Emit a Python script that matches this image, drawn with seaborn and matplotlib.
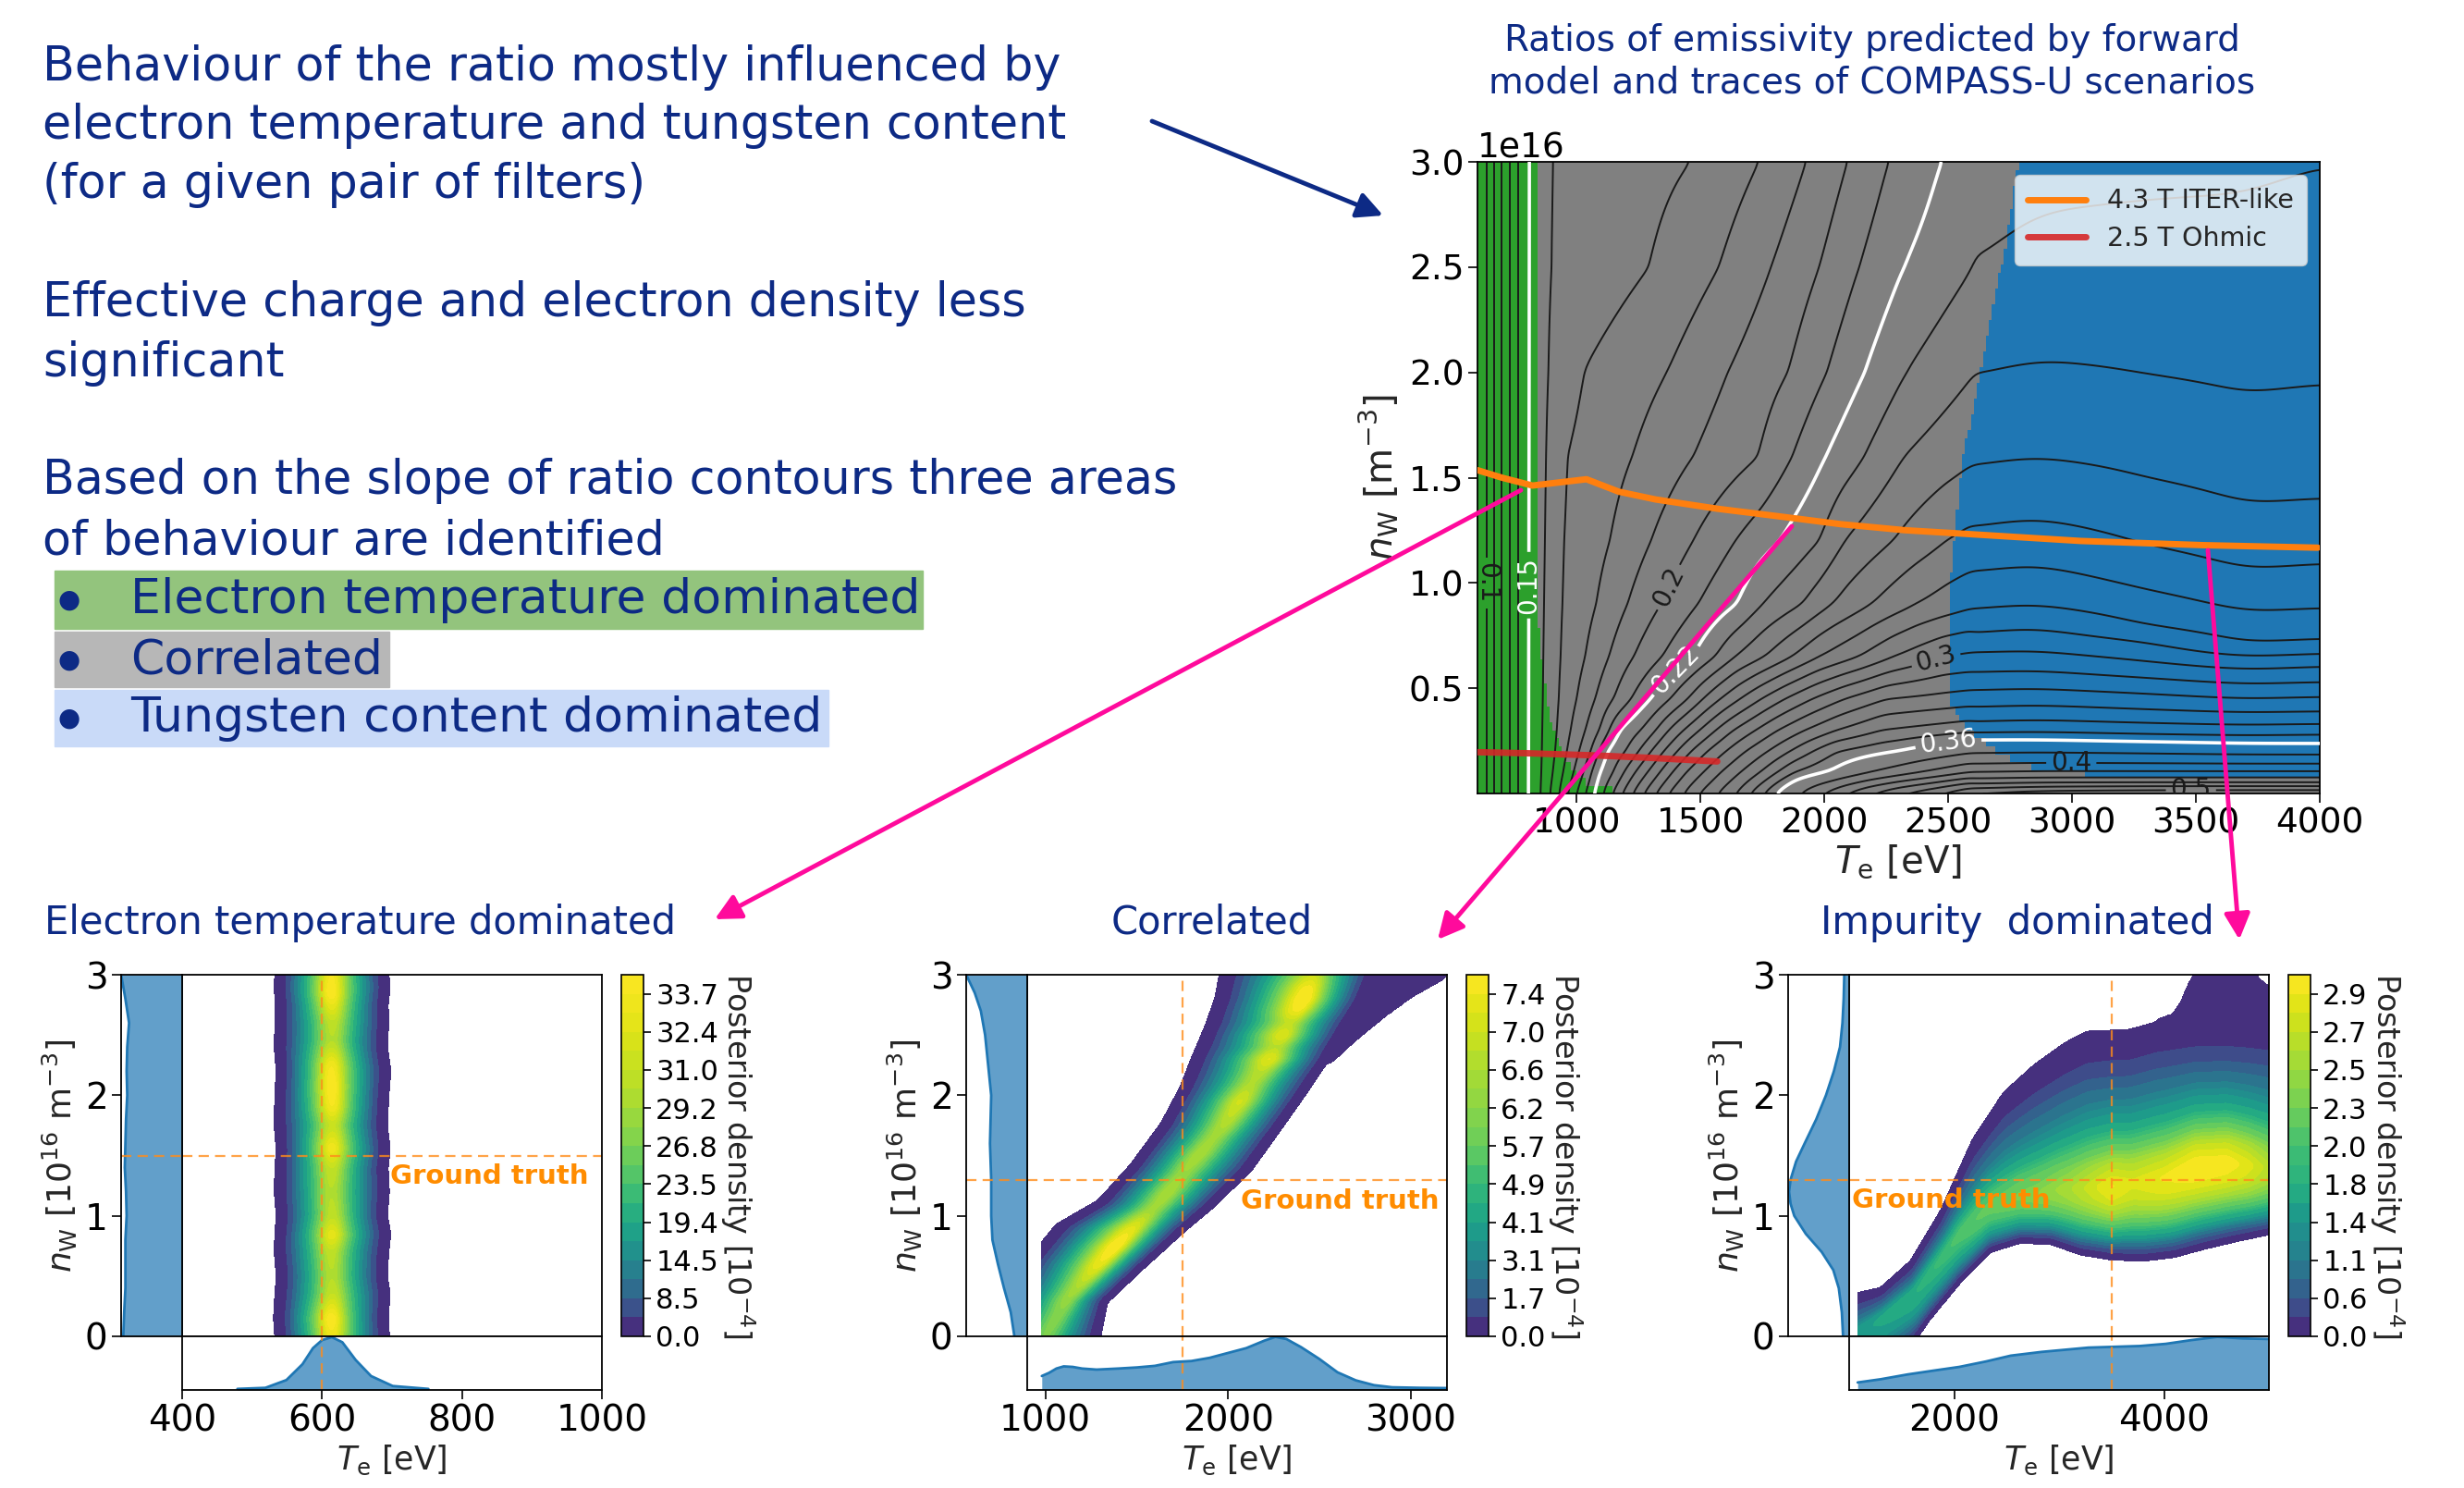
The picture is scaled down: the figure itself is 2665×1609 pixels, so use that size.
import numpy as np
import matplotlib
matplotlib.use("Agg")
import matplotlib.pyplot as plt
import seaborn as sns
from matplotlib.colors import ListedColormap, Normalize
from matplotlib.patches import Rectangle, FancyArrowPatch

N = np.nan

# ---------------------------------------------------------------- main map data
# ratio-contour crossings (Te, eV) read along rows of constant n_W (1e16 m^-3)
ROWS_NW = [0.0, 0.1, 0.2, 0.3, 0.45, 0.65, 0.9, 1.2, 1.6, 2.0, 2.5, 3.0]
GREEN_TE = [600, 636, 667, 698, 729, 760, 804]
GREEN_R = [0.088, 0.10, 0.11, 0.12, 0.13, 0.14, 0.15]
CROSS_LEVELS = [0.16, 0.17, 0.18, 0.19, 0.20, 0.21, 0.22, 0.23, 0.24, 0.25, 0.26, 0.27,
                0.28, 0.29, 0.30, 0.31, 0.32, 0.33, 0.34, 0.35, 0.36, 0.38, 0.40, 0.42,
                0.44, 0.46, 0.48]
CROSS_TE = [
    [858, 859, 860, 861, 863, 865, 868, 872, 876, 881, 886, 890],
    [893, 905, 915, 921, 927, 932, 937, 942, 955, 1025, 1293, 1461],
    [930, 945, 960, 975, 1000, 1035, 1080, 1135, 1225, 1365, 1575, 1737],
    [965, 988, 1010, 1035, 1075, 1130, 1205, 1300, 1470, 1610, 1785, 1927],
    [1000, 1030, 1060, 1095, 1150, 1230, 1340, 1470, 1735, 1855, 1980, 2093],
    [1036, 1060, 1090, 1130, 1220, 1345, 1490, 1640, 1870, 2010, 2140, 2258],
    [1071, 1090, 1118, 1170, 1300, 1470, 1648, 1818, 2005, 2162, 2320, 2470],
    [1108, 1150, 1200, 1260, 1380, 1560, 1750, 1980, 2160, 2330, N, N],
    [1145, 1190, 1250, 1320, 1450, 1640, 1910, 2080, 2320, N, N, N],
    [1183, 1235, 1300, 1370, 1510, 1760, 2030, 2275, N, N, N, N],
    [1226, 1285, 1350, 1430, 1580, 1870, 2190, 2490, N, N, N, N],
    [1270, 1335, 1405, 1495, 1660, 1980, 2370, N, N, N, N, N],
    [1319, 1385, 1460, 1560, 1745, 2140, N, N, N, N, N, N],
    [1369, 1440, 1525, 1630, 1840, 2280, N, N, N, N, N, N],
    [1431, 1510, 1600, 1720, 1950, 2480, N, N, N, N, N, N],
    [1493, 1580, 1680, 1810, 2080, N, N, N, N, N, N, N],
    [1568, 1660, 1770, 1920, 2250, N, N, N, N, N, N, N],
    [1642, 1740, 1860, 2050, N, N, N, N, N, N, N, N],
    [1700, 1810, 1950, 2230, N, N, N, N, N, N, N, N],
    [1755, 1880, 2050, N, N, N, N, N, N, N, N, N],
    [1804, 2020, 2300, N, N, N, N, N, N, N, N, N],
    [1900, 2200, N, N, N, N, N, N, N, N, N, N],
    [1990, 2400, N, N, N, N, N, N, N, N, N, N],
    [2080, N, N, N, N, N, N, N, N, N, N, N],
    [2180, N, N, N, N, N, N, N, N, N, N, N],
    [2300, N, N, N, N, N, N, N, N, N, N, N],
    [2450, N, N, N, N, N, N, N, N, N, N, N],
]
# heights (n_W) of the nearly horizontal contours in the hot region, per column
BLUE_TE = [2600, 2850, 3300, 3700, 4000]
BLUE_LEVELS = [0.22, 0.23, 0.24, 0.25, 0.26, 0.27, 0.28, 0.29, 0.30, 0.31, 0.32, 0.33,
               0.34, 0.35, 0.36, 0.38, 0.40, 0.42, 0.44, 0.46, 0.48, 0.50, 0.52]
BLUE_NW = [
    [3.30, 3.60, 3.80, 3.90, 4.00],
    [2.50, 2.76, 2.82, 2.85, 2.98],
    [1.98, 2.06, 1.99, 1.89, 1.94],
    [1.55, 1.60, 1.50, 1.37, 1.40],
    [1.26, 1.31, 1.18, 1.06, 1.09],
    [1.05, 1.09, 0.97, 0.86, 0.88],
    [0.87, 0.90, 0.80, 0.71, 0.73],
    [0.76, 0.79, 0.72, 0.65, 0.665],
    [0.67, 0.68, 0.63, 0.59, 0.606],
    [0.575, 0.585, 0.55, 0.52, 0.53],
    [0.49, 0.50, 0.475, 0.45, 0.46],
    [0.41, 0.42, 0.40, 0.385, 0.39],
    [0.34, 0.35, 0.335, 0.325, 0.33],
    [0.285, 0.29, 0.28, 0.275, 0.28],
    [0.255, 0.255, 0.245, 0.235, 0.233],
    [0.19, 0.195, 0.19, 0.185, 0.185],
    [0.14, 0.145, 0.143, 0.141, 0.141],
    [0.10, 0.105, 0.105, 0.105, 0.105],
    [0.07, 0.075, 0.075, 0.075, 0.075],
    [0.045, 0.05, 0.05, 0.05, 0.05],
    [0.025, 0.033, 0.035, 0.035, 0.035],
    [0.005, 0.015, 0.02, 0.02, 0.02],
    [-0.02, 0.0, 0.005, 0.008, 0.008],
]
BLACK_LEVELS = [0.11, 0.12, 0.13, 0.14, 0.16, 0.17, 0.18, 0.19, 0.21, 0.23, 0.24, 0.25,
                0.26, 0.27, 0.28, 0.29, 0.31, 0.32, 0.33, 0.34, 0.35, 0.38, 0.42, 0.44,
                0.46, 0.48, 0.52]
BLACK_LABELED = [0.10, 0.20, 0.30, 0.40, 0.50]
BLACK_LABEL_POS = [(630, 1.00), (1390, 0.97), (2450, 0.64), (2997, 0.145), (3480, 0.02)]
WHITE_LEVELS = [0.15, 0.22, 0.36]
WHITE_LABEL_POS = [(804, 0.99), (1419, 0.563), (2500, 0.25)]

# behaviour regions (boundaries)
GREEN_B_NW = [0.0, 0.015, 0.05, 0.11, 0.25, 0.40, 0.90, 3.0]
GREEN_B_TE = [1800, 1158, 1046, 984, 922, 884, 838, 838]
BLUE_L_NW = [0.0, 0.45, 0.69, 1.06, 1.35, 1.573, 1.75, 1.97, 2.19, 2.41, 2.63, 3.0]
BLUE_L_TE = [2500, 2500, 2505, 2512, 2537, 2556, 2587, 2624, 2661, 2698, 2736, 2784]
BLUE_B_TE = [2400, 2500, 2537, 2575, 2635, 2698, 2784, 2911, 3097, 3406, 3656, 3902, 4000]
BLUE_B_NW = [0.60, 0.45, 0.374, 0.30, 0.255, 0.20, 0.145, 0.11, 0.088, 0.07, 0.07, 0.079, 0.093]

# scenario traces
ITER_TE = [600, 700, 822, 1040, 1170, 1319, 1568, 1816, 2064, 2325, 2537, 3034, 3530, 3992]
ITER_NW = [1.536, 1.50, 1.463, 1.493, 1.434, 1.397, 1.353, 1.317, 1.28, 1.251, 1.236, 1.20, 1.18, 1.168]
OHM_TE = [600, 800, 1071, 1300, 1568]
OHM_NW = [0.197, 0.192, 0.182, 0.170, 0.153]

# ---------------------------------------------------------------- posterior panels
# ridge description: outer edges, crest and crest amplitude along the ridge
P1_S = [0, 0.15, 0.35, 0.5, 0.7, 0.85, 1.0, 1.2, 1.4, 1.55, 1.75, 2.0, 2.2, 2.4, 2.6, 2.75, 2.9, 3.0]
P1_LO = [536, 534, 536, 538, 535, 536, 538, 535, 536, 538, 535, 536, 538, 535, 536, 537, 535, 536]
P1_PK = [614, 613, 615, 614, 613, 614, 615, 613, 614, 614, 615, 614, 613, 614, 615, 614, 613, 614]
P1_HI = [693, 691, 694, 690, 692, 695, 690, 693, 691, 694, 690, 692, 695, 690, 692, 691, 694, 692]
P1_AMP_S = [0, 0.15, 0.35, 0.5, 0.7, 0.84, 1.0, 1.2, 1.4, 1.56, 1.75, 1.9, 2.07, 2.25, 2.45,
            2.6, 2.75, 2.85, 3.0]
P1_AMP = [0.97, 1.0, 0.9, 0.87, 0.89, 0.96, 0.89, 0.87, 0.9, 0.98, 0.9, 0.98, 1.0, 0.98,
          0.87, 0.89, 0.96, 1.0, 0.98]
P1_LEVELS = [0.04, 4.4, 8.5, 11.6, 14.5, 17.0, 19.4, 21.5, 23.5, 25.2, 26.8, 28.0, 29.2,
             30.1, 31.0, 31.7, 32.4, 33.05, 33.7, 34.3]

P2_S = [0, 0.3, 0.6, 0.9, 1.1, 1.4, 1.75, 2.05, 2.3, 2.55, 2.8, 3.0]
P2_LO = [700, 800, 900, 1060, 1290, 1470, 1640, 1745, 1810, 1880, 1940, 1963]
P2_PK = [1000, 1120, 1300, 1480, 1620, 1780, 1980, 2110, 2230, 2320, 2420, 2470]
P2_HI = [1292, 1330, 1540, 1760, 1920, 2125, 2290, 2430, 2540, 2640, 2740, 2800]
P2_AMP_S = [0, 0.2, 0.4, 0.6, 0.75, 0.9, 1.05, 1.2, 1.35, 1.5, 1.65, 1.8, 1.95, 2.1, 2.2,
            2.3, 2.4, 2.5, 2.6, 2.7, 2.8, 2.9, 3.0]
P2_AMP = [0.78, 0.8, 0.86, 0.96, 1.0, 0.95, 0.84, 0.86, 0.83, 0.86, 0.84, 0.88, 0.92, 0.86,
          0.88, 0.95, 0.87, 0.94, 0.88, 0.97, 1.0, 0.97, 0.9]
P2_HALO_S = [0, 2.2, 2.31, 2.5, 2.69, 2.85, 3.0]
P2_HALO = [0, 0, 2562, 2700, 2854, 3000, 3175]
P2_LEVELS = [0.01, 0.9, 1.7, 2.45, 3.1, 3.6, 4.1, 4.5, 4.9, 5.3, 5.7, 5.95, 6.2, 6.4,
             6.6, 6.8, 7.0, 7.2, 7.4, 7.65]

P3_LO_S = [1000, 1081, 1300, 1630, 1748, 2041, 2334, 2627, 2920, 3214, 3507, 3800, 4094,
           4387, 4680, 5000]
P3_LO = [-0.4, -0.35, -0.25, 0.0, 0.15, 0.46, 0.72, 0.8, 0.79, 0.7, 0.66, 0.65, 0.68,
         0.75, 0.81, 0.87]
P3_PK_S = [1000, 1200, 1600, 2041, 2334, 2627, 3000, 3500, 4000, 4300, 4600, 5000]
P3_PK = [0.0, 0.1, 0.35, 0.85, 1.08, 1.17, 1.22, 1.25, 1.32, 1.42, 1.45, 1.40]
P3_HI_S = [1000, 1088, 1308, 1601, 1894, 2188, 2481, 2774, 3067, 3273, 3654, 3947, 4300, 5000]
P3_HI = [0.33, 0.35, 0.39, 0.62, 1.05, 1.63, 2.02, 2.25, 2.43, 2.52, 2.53, 2.6, 2.62, 2.62]
P3_AMP_S = [1000, 1300, 1600, 1900, 2200, 2500, 2800, 3100, 3350, 3500, 3700, 4000, 4300,
            4600, 4800, 5000]
P3_AMP = [0.5, 0.55, 0.6, 0.66, 0.72, 0.76, 0.8, 0.86, 0.93, 0.97, 0.94, 0.97, 1.0, 0.99,
          0.95, 0.88]
P3_HALO_S = [1000, 3900, 3950, 4100, 4182, 4250, 4314, 4400, 4800, 4880, 5000]
P3_HALO = [0, 0, 2.6, 2.65, 2.76, 2.9, 3.0, 3.3, 3.3, 2.95, 2.87]
P3_LEVELS = [0.01, 0.3, 0.6, 0.85, 1.1, 1.25, 1.4, 1.6, 1.8, 1.9, 2.0, 2.15, 2.3, 2.4,
             2.5, 2.6, 2.7, 2.8, 2.9, 3.0]

# cross-section shapes (relative density vs. normalised distance from crest)
SHAPE_D = [0, 0.08, 0.19, 0.36, 0.5, 0.63, 0.75, 0.83, 0.92, 1.0, 1.05]
SHAPE_F = [1.0, 0.985, 0.9, 0.72, 0.56, 0.4, 0.23, 0.125, 0.05, 0.001, 0.0]
SHAPE3_LO_D = [0, 0.21, 0.41, 0.57, 0.75, 0.89, 1.0, 1.05]
SHAPE3_LO_F = [1.0, 0.96, 0.86, 0.72, 0.5, 0.2, 0.003, 0.0]
SHAPE3_HI_D = [0, 0.14, 0.24, 0.4, 0.6, 0.78, 1.0, 1.05]
SHAPE3_HI_F = [1.0, 0.9, 0.77, 0.55, 0.33, 0.12, 0.003, 0.0]

# marginal densities (relative)
P1_MX_TE = [479, 519, 549, 572, 587, 600, 614, 629, 648, 670, 701, 752]
P1_MX_D = [0.02, 0.04, 0.185, 0.48, 0.78, 0.93, 0.985, 0.89, 0.56, 0.26, 0.074, 0.02]
P1_MY_NW = [0.0, 0.2, 0.4, 0.6, 0.8, 1.0, 1.2, 1.4, 1.6, 1.8, 2.0, 2.2, 2.4, 2.6, 2.8, 3.0]
P1_MY_D = [0.965, 0.95, 0.93, 0.93, 0.93, 0.91, 0.92, 0.94, 0.93, 0.92, 0.90, 0.91, 0.90, 0.87, 0.93, 1.0]
P2_MX_TE = [980, 1020, 1060, 1100, 1150, 1200, 1280, 1400, 1500, 1600, 1700, 1800, 1900,
            2000, 2100, 2200, 2260, 2320, 2400, 2500, 2600, 2700, 2800, 2900, 3050, 3200]
P2_MX_D = [0.26, 0.32, 0.40, 0.44, 0.43, 0.40, 0.38, 0.40, 0.42, 0.45, 0.52, 0.54, 0.60,
           0.69, 0.78, 0.92, 0.99, 0.95, 0.80, 0.58, 0.33, 0.18, 0.09, 0.05, 0.04, 0.035]
P2_MY_NW = [0.0, 0.2, 0.4, 0.6, 0.8, 1.0, 1.3, 1.6, 2.0, 2.3, 2.5, 2.7, 2.85, 3.0]
P2_MY_D = [0.21, 0.27, 0.38, 0.48, 0.57, 0.59, 0.59, 0.61, 0.59, 0.65, 0.69, 0.76, 0.86, 1.0]
P3_MX_TE = [1081, 1300, 1558, 1800, 2049, 2300, 2540, 2835, 3280, 3771, 4017, 4263, 4509, 4754, 5000]
P3_MX_D = [0.14, 0.20, 0.29, 0.36, 0.43, 0.53, 0.64, 0.71, 0.79, 0.82, 0.86, 0.93, 0.99, 0.96, 0.95]
P3_MY_NW = [0.0, 0.2, 0.4, 0.55, 0.7, 0.85, 1.0, 1.1, 1.2, 1.3, 1.45, 1.6, 1.8, 2.0, 2.2,
            2.4, 2.6, 2.8, 3.0]
P3_MY_D = [0.10, 0.12, 0.17, 0.26, 0.45, 0.71, 0.90, 0.96, 0.985, 0.96, 0.87, 0.73, 0.54,
           0.38, 0.25, 0.15, 0.11, 0.09, 0.08]

GT_TE = [600, 1750, 3500]
GT_NW = [1.5, 1.3, 1.3]

# ---------------------------------------------------------------- style
sns.set_theme(style="ticks", rc={"axes.edgecolor": "black", "axes.linewidth": 1.3,
                                 "xtick.color": "black", "ytick.color": "black",
                                 "xtick.major.size": 7, "ytick.major.size": 7,
                                 "xtick.major.width": 1.2, "ytick.major.width": 1.2})
plt.rcParams["font.family"] = ["DejaVu Sans"]
plt.rcParams["mathtext.fontset"] = "dejavusans"

NAVY = "#0d2a85"
MAGENTA = "#ff0a9c"
ORANGE_GT = "#ff8c00"
TAB_BLUE = "#1f77b4"

W, H = 2665, 1609
fig = plt.figure(figsize=(W / 100, H / 100), dpi=100)


def fbox(x0, y0, w, h):
    return [x0 / W, 1 - (y0 + h) / H, w / W, h / H]


def gauss1d(s):
    r = int(3 * s) + 1
    k = np.exp(-0.5 * (np.arange(-r, r + 1) / s) ** 2)
    return k / k.sum()


def smooth(Z, sy, sx):
    if sy > 0:
        k = gauss1d(sy)
        r = len(k) // 2
        Zp = np.pad(Z, ((r, r), (0, 0)), mode="edge")
        Z = np.apply_along_axis(lambda c: np.convolve(c, k, mode="valid"), 0, Zp)
    if sx > 0:
        k = gauss1d(sx)
        r = len(k) // 2
        Zp = np.pad(Z, ((0, 0), (r, r)), mode="edge")
        Z = np.apply_along_axis(lambda c: np.convolve(c, k, mode="valid"), 1, Zp)
    return Z


# ---------------------------------------------------------------- build ratio field
TE_F = np.linspace(600, 4000, 341)
NW_F = np.linspace(0.0, 3.0, 301)
blue_lv = np.array(BLUE_LEVELS)
blue_h = np.array(BLUE_NW)


def blue_col(j, nw):
    h = blue_h[:, j]
    o = np.argsort(h)
    return np.interp(nw, h[o], blue_lv[o])


cols = np.array([blue_col(j, NW_F) for j in range(len(BLUE_TE))])
R_blue = np.array([np.interp(TE_F, BLUE_TE, cols[:, i]) for i in range(len(NW_F))])
R_blue = smooth(R_blue, 0, 10)

rows = []
for i, nw in enumerate(ROWS_NW):
    te = list(GREEN_TE)
    r = list(GREEN_R)
    for lv, tl in zip(CROSS_LEVELS, CROSS_TE):
        if not np.isnan(tl[i]) and tl[i] < BLUE_TE[0]:
            te.append(tl[i])
            r.append(lv)
    te.append(BLUE_TE[0])
    r.append(float(blue_col(0, nw)))
    o = np.argsort(te)
    rows.append(np.interp(TE_F, np.array(te, float)[o], np.array(r, float)[o]))
rows = np.array(rows)
R_gray = np.array([np.interp(NW_F, ROWS_NW, rows[:, k]) for k in range(len(TE_F))]).T
R = np.where(TE_F[None, :] < BLUE_TE[0], R_gray, R_blue)
R = smooth(R, 2, 2)

# region map
te_e = np.linspace(600, 4000, 281)
nw_e = np.linspace(0, 3.0, 81)
TC, NC = np.meshgrid(0.5 * (te_e[1:] + te_e[:-1]), 0.5 * (nw_e[1:] + nw_e[:-1]))
reg = np.ones_like(TC)
reg[TC < np.interp(NC, GREEN_B_NW, GREEN_B_TE)] = 0
reg[(TC > np.interp(NC, BLUE_L_NW, BLUE_L_TE)) & (NC > np.interp(TC, BLUE_B_TE, BLUE_B_NW))] = 2

# ---------------------------------------------------------------- main axes
ax = fig.add_axes(fbox(1598, 175, 911, 683))
ax.pcolormesh(te_e, nw_e * 1e16, reg, cmap=ListedColormap(["#2ca02c", "#808080", TAB_BLUE]),
              vmin=0, vmax=2, shading="flat", zorder=0)
YF = NW_F * 1e16
ax.contour(TE_F, YF, R, levels=BLACK_LEVELS, colors="k", linewidths=1.4, zorder=2)
for lv, pos in zip(BLACK_LABELED, BLACK_LABEL_POS):
    cs = ax.contour(TE_F, YF, R, levels=[lv], colors="k", linewidths=1.4, zorder=2)
    ax.clabel(cs, fmt="%g", fontsize=20, inline=True, manual=[(pos[0], pos[1] * 1e16)])
for lv, pos in zip(WHITE_LEVELS, WHITE_LABEL_POS):
    cs = ax.contour(TE_F, YF, R, levels=[lv], colors="white", linewidths=2.6, zorder=3)
    ax.clabel(cs, fmt="%g", fontsize=20, inline=True, manual=[(pos[0], pos[1] * 1e16)])

sns.lineplot(x=ITER_TE, y=np.array(ITER_NW) * 1e16, ax=ax, color="#ff7f0e", lw=5,
             label="4.3 T ITER-like", sort=False, zorder=5)
sns.lineplot(x=OHM_TE, y=np.array(OHM_NW) * 1e16, ax=ax, color="#d62728", lw=5, alpha=0.9,
             label="2.5 T Ohmic", sort=False, zorder=5)
ax.legend(loc="upper right", fontsize=20.5, framealpha=0.8, handlelength=2.2,
          borderpad=0.5, labelspacing=0.45, borderaxespad=0.5)
ax.set_xlim(600, 4000)
ax.set_ylim(1e13, 3e16)
ax.set_xlabel(r"$T_\mathrm{e}$ [eV]", fontsize=29, labelpad=2)
ax.set_ylabel(r"$n_\mathrm{W}$ [m$^{-3}$]", fontsize=29, labelpad=6)
ax.tick_params(labelsize=27)
ax.yaxis.get_offset_text().set_fontsize(27)


# ---------------------------------------------------------------- posterior panels
def ridge(S, X, lo_s, lo, pk_s, pk, hi_s, hi, amp_s, amp, dl, fl, dh, fh,
          halo_s=None, halo=None, halo_v=0.05):
    L = np.interp(S, lo_s, lo)
    P = np.interp(S, pk_s, pk)
    U = np.interp(S, hi_s, hi)
    A = np.interp(S, amp_s, amp)
    d1 = (P - X) / np.maximum(P - L, 1e-9)
    d2 = (X - P) / np.maximum(U - P, 1e-9)
    f = np.where(X < P, np.interp(d1, dl, fl, right=0.0), np.interp(d2, dh, fh, right=0.0))
    Z = A * f
    if halo_s is not None:
        Hh = np.interp(S, halo_s, halo)
        Z = np.where((X >= P) & (X <= Hh), np.maximum(Z, halo_v), Z)
    return Z


PANELS = [
    dict(x0=197, xlim=(400, 1000), xticks=[400, 600, 800, 1000], tmin=None,
         levels=P1_LEVELS, mx=(P1_MX_TE, P1_MX_D), my=(P1_MY_NW, P1_MY_D),
         gt=(GT_TE[0], GT_NW[0]), gtxt=(981, 1.33, "right"),
         title="Electron temperature dominated", tcx=389),
    dict(x0=1111, xlim=(900, 3200), xticks=[1000, 2000, 3000], tmin=980,
         levels=P2_LEVELS, mx=(P2_MX_TE, P2_MX_D), my=(P2_MY_NW, P2_MY_D),
         gt=(GT_TE[1], GT_NW[1]), gtxt=(3157, 1.12, "right"), title="Correlated", tcx=1311),
    dict(x0=2000, xlim=(1000, 5000), xticks=[2000, 4000], tmin=1081,
         levels=P3_LEVELS, mx=(P3_MX_TE, P3_MX_D), my=(P3_MY_NW, P3_MY_D),
         gt=(GT_TE[2], GT_NW[2]), gtxt=(1025, 1.13, "left"), title="Impurity  dominated",
         tcx=2182),
]

JY0, JW, JH, MW, MH = 1054, 454, 391, 66, 58
for k, p in enumerate(PANELS):
    x0 = p["x0"]
    axj = fig.add_axes(fbox(x0, JY0, JW, JH))
    axl = fig.add_axes(fbox(x0 - MW, JY0, MW, JH))
    axb = fig.add_axes(fbox(x0, JY0 + JH, JW, MH))
    cax = fig.add_axes(fbox(x0 + JW + 21, JY0, 24, JH))

    te = np.linspace(p["xlim"][0], p["xlim"][1], 461)
    nw = np.linspace(0, 3.0, 301)
    TE, NW = np.meshgrid(te, nw)
    if k == 0:
        Z = ridge(NW, TE, P1_S, P1_LO, P1_S, P1_PK, P1_S, P1_HI, P1_AMP_S, P1_AMP,
                  SHAPE_D, SHAPE_F, SHAPE_D, SHAPE_F)
    elif k == 1:
        Z = ridge(NW, TE, P2_S, P2_LO, P2_S, P2_PK, P2_S, P2_HI, P2_AMP_S, P2_AMP,
                  SHAPE_D, SHAPE_F, SHAPE_D, SHAPE_F, P2_HALO_S, P2_HALO)
    else:
        Z = ridge(TE, NW, P3_LO_S, P3_LO, P3_PK_S, P3_PK, P3_HI_S, P3_HI, P3_AMP_S, P3_AMP,
                  SHAPE3_LO_D, SHAPE3_LO_F, SHAPE3_HI_D, SHAPE3_HI_F, P3_HALO_S, P3_HALO)
    Z = smooth(Z, 2, 2)
    lv = p["levels"]
    Z = Z * lv[-1] / max(Z.max(), 1e-9)
    if p["tmin"] is not None:
        Z[TE < p["tmin"]] = np.nan
    shift = (0.14 * lv[-1] - 0.5 * (lv[0] + lv[1])) / 0.86
    cf = axj.contourf(TE, NW, np.ma.masked_invalid(Z), levels=lv, cmap="viridis",
                      norm=Normalize(vmin=lv[0] - shift, vmax=lv[-1]))
    axj.set_xlim(*p["xlim"])
    axj.set_ylim(0, 3)
    axj.set_xticks([])
    axj.set_yticks([])

    cb = fig.colorbar(cf, cax=cax, ticks=lv[::2], format="%.1f")
    cb.ax.tick_params(labelsize=22, length=6)
    cb.outline.set_linewidth(1.2)
    cb.set_label("Posterior density [$10^{-4}$]", rotation=270, fontsize=24, labelpad=30)

    # marginals
    mt, md = p["mx"]
    axb.fill_between(mt, 0, md, color=TAB_BLUE, alpha=0.7, lw=0)
    sns.lineplot(x=mt, y=md, ax=axb, color=TAB_BLUE, lw=2)
    axb.set_xlim(*p["xlim"])
    axb.set_ylim(0, 1.0)
    axb.set_yticks([])
    axb.set_ylabel("")
    axb.set_xticks(p["xticks"])
    axb.tick_params(labelsize=28)
    axb.set_xlabel(r"$T_\mathrm{e}$ [eV]", fontsize=25)

    yn, yd = p["my"]
    axl.fill_betweenx(yn, 0, yd, color=TAB_BLUE, alpha=0.7, lw=0)
    axl.plot(yd, yn, color=TAB_BLUE, lw=2)
    axl.set_xlim(1.0, 0)
    axl.set_ylim(0, 3)
    axl.set_xticks([])
    axl.set_yticks([0, 1, 2, 3])
    axl.tick_params(labelsize=28)
    axl.set_ylabel(r"$n_\mathrm{W}$ [$10^{16}$ m$^{-3}$]", fontsize=26)

    gx, gy = p["gt"]
    for a in (axj, axb):
        a.axvline(gx, color="#ff8c1a", lw=1.6, ls=(0, (5, 3)), alpha=0.8)
    for a in (axj, axl):
        a.axhline(gy, color="#ff8c1a", lw=1.6, ls=(0, (5, 3)), alpha=0.8)
    tx, ty, ha = p["gtxt"]
    axj.text(tx, ty, "Ground truth", color=ORANGE_GT, fontsize=21, fontweight="bold",
             ha=ha, va="center")
    fig.text(p["tcx"] / W, 1 - 998 / H, p["title"], color=NAVY, fontsize=30,
             ha="center", va="center")

# ---------------------------------------------------------------- texts
fig.text(2025 / W, 1 - 67 / H, "Ratios of emissivity predicted by forward\n"
         "model and traces of COMPASS-U scenarios", color=NAVY, fontsize=28,
         ha="center", va="center", linespacing=1.25)

LEFT_LINES = [("Behaviour of the ratio mostly influenced by", 73),
              ("electron temperature and tungsten content", 136),
              ("(for a given pair of filters)", 200),
              ("Effective charge and electron density less", 328),
              ("significant", 393),
              ("Based on the slope of ratio contours three areas", 520),
              ("of behaviour are identified", 585)]
for s, y in LEFT_LINES:
    fig.text(46 / W, 1 - y / H, s, color=NAVY, fontsize=36.5, ha="left", va="center")

BOXES = [("Electron temperature dominated", 649, "#93c47d", 59, 998, 617, 680),
         ("Correlated", 714, "#b7b7b7", 59, 421, 683, 743),
         ("Tungsten content dominated", 777, "#c9daf8", 59, 896, 746, 807)]
for s, y, c, bx0, bx1, by0, by1 in BOXES:
    fig.add_artist(Rectangle((bx0 / W, 1 - by1 / H), (bx1 - bx0) / W, (by1 - by0) / H,
                             transform=fig.transFigure, color=c, zorder=0))
    fig.text(75 / W, 1 - y / H, "\u25CF", color=NAVY, fontsize=20, ha="center", va="center")
    fig.text(141 / W, 1 - y / H, s, color=NAVY, fontsize=37.5, ha="left", va="center")

# arrows
ARROWS = [((1246, 131), (1496, 233), NAVY), ((1645, 530), (773, 994), MAGENTA),
          ((1938, 569), (1555, 1016), MAGENTA), ((2388, 595), (2422, 1016), MAGENTA)]
for (xa, ya), (xb, yb), c in ARROWS:
    fig.add_artist(FancyArrowPatch((xa / W, 1 - ya / H), (xb / W, 1 - yb / H),
                                   transform=fig.transFigure, arrowstyle="-|>",
                                   mutation_scale=42, color=c, lw=3.5, zorder=10,
                                   shrinkA=0, shrinkB=0))

fig.savefig("out.png", dpi=100)
